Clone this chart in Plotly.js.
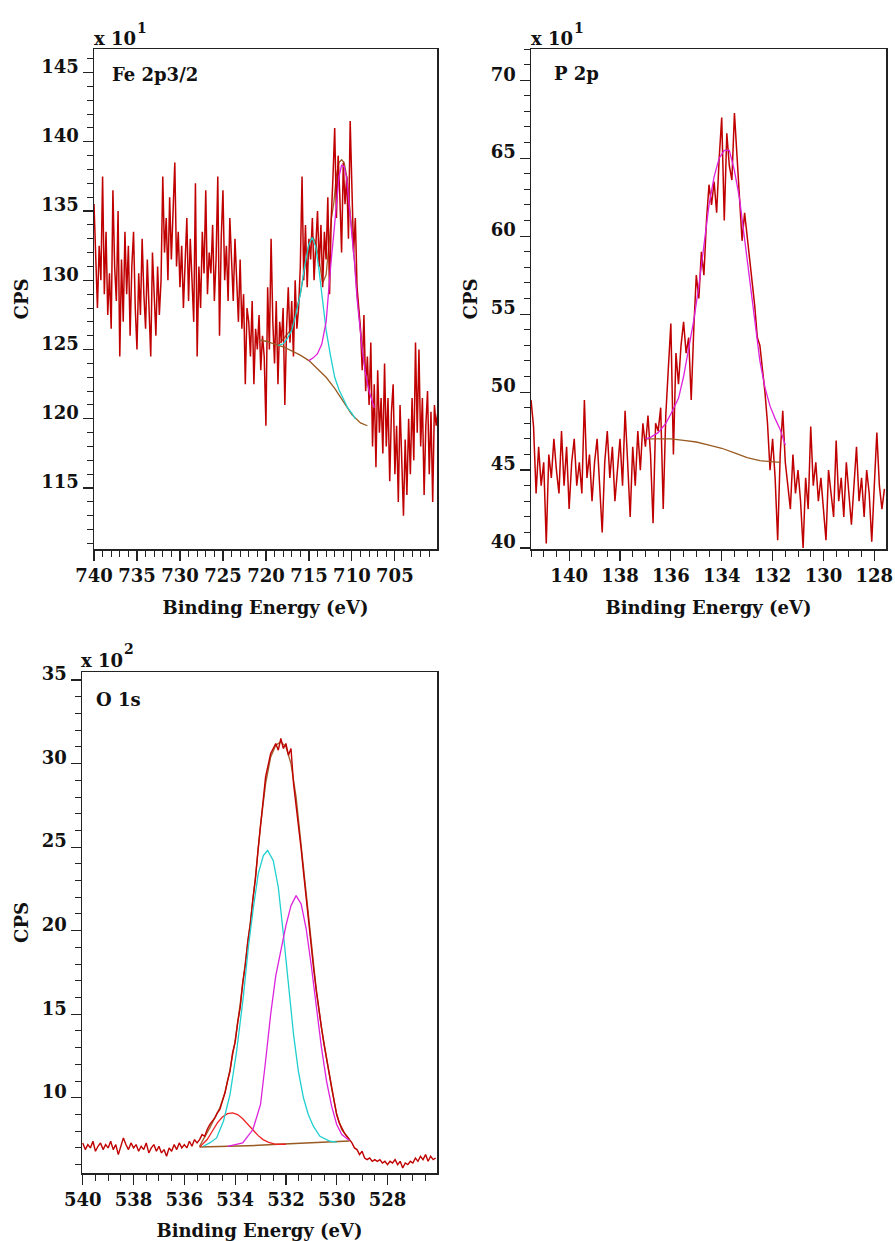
<!DOCTYPE html>
<html><head><meta charset="utf-8">
<script src="https://cdn.plot.ly/plotly-3.0.1.min.js"></script>
<style>html,body{margin:0;padding:0;background:#fff}#chart{width:895px;height:1241px}</style>
</head><body><div id="chart"></div>
<script>
// ---------- Fe 2p3/2 (CPS x 10) ----------
const feStart = 740, feStep = 0.2;
const feCounts = [
135.5,131.0,128.0,132.5,130.0,137.5,129.0,133.5,127.5,130.5,
126.5,136.5,131.0,128.5,135.0,124.5,131.5,127.0,133.5,129.0,
132.5,126.0,131.0,133.5,128.0,125.0,130.5,127.5,133.0,129.0,
126.5,131.5,128.0,124.5,132.0,129.0,126.0,131.0,127.5,130.0,
137.5,132.0,134.5,130.0,136.0,131.5,135.0,138.5,131.0,133.5,
129.5,132.5,128.0,131.0,134.5,128.5,133.0,130.0,127.0,137.0,
124.5,131.0,128.0,133.5,130.5,136.5,129.0,132.0,130.5,134.0,
128.5,131.5,137.5,126.0,133.0,136.5,130.0,132.5,128.5,134.5,
131.0,128.5,133.0,129.5,127.0,131.5,126.5,129.0,122.5,128.0,
127.0,124.5,128.5,122.5,126.5,125.0,127.5,123.5,126.0,124.5,
119.5,129.5,125.0,133.0,127.0,124.0,128.5,122.5,127.0,125.5,
128.0,121.0,126.5,129.5,125.5,128.5,124.5,130.0,126.5,128.0,
131.0,137.5,130.0,134.0,129.5,133.0,131.5,134.5,130.0,132.5,
135.0,131.0,134.0,129.5,133.5,131.5,136.0,129.0,134.5,137.5,
141.0,134.5,139.0,136.0,132.0,138.5,135.5,137.5,133.0,141.5,
136.0,132.0,134.5,129.5,128.0,126.5,123.5,127.5,122.0,124.5,
121.0,125.5,118.0,122.5,116.5,123.5,119.0,121.5,117.5,124.0,
118.0,121.5,115.5,120.5,122.5,116.0,119.5,114.0,121.0,117.5,
113.0,118.5,114.5,120.0,116.0,121.5,117.0,125.5,119.0,125.0,
118.0,121.5,114.5,119.5,122.0,116.0,120.5,114.0,121.0,119.5,
120.5];
const feBgE = [720.8,720,719,718,717,716,715,714,713,712,711,710,709,708.2];
const feBg  = [125.7,125.6,125.4,125.2,124.9,124.6,124.2,123.6,123.0,122.2,121.2,120.3,119.7,119.5];
const feCyanE = [718.6,718,717.5,717,716.5,716,715.5,715,714.6,714.2,713.8,713.4,713,712.5,712,711.5,711,710.5,710,709.6];
const feCyan  = [125.3,125.4,125.8,126.4,127.6,129.0,131.0,132.6,133.1,132.4,130.6,128.4,126.4,124.6,123.0,122.1,121.4,120.8,120.4,120.0];
const feMagE = [715,714.5,714,713.5,713,712.7,712.4,712.1,711.8,711.5,711.2,710.9,710.6,710.3,710,709.7,709.4,709.1,708.8,708.4,708,707.6,707.4];
const feMag  = [124.2,124.4,124.7,125.4,127.0,129.4,131.5,133.4,135.8,137.5,138.3,138.2,137.3,135.4,133.4,131.3,128.7,126.6,125.0,123.2,122.0,121.2,120.8];
const feEnvE = [718.6,717,716,715,714.6,714.2,713.8,713.4,713,712.7,712.4,712.1,711.8,711.5,711.2,710.9,710.6,710.3,710,709.7,709.4,709.1,708.8,708.4,708];
const feEnv  = [125.3,126.5,129.0,132.6,133.2,132.7,131.4,129.8,130.4,132.2,134.4,135.6,137.6,138.5,138.7,138.5,137.5,135.6,133.6,131.5,128.9,126.8,125.1,123.3,122.1];

// ---------- P 2p (CPS x 10) ----------
const pStart = 141.5, pStep = 0.1;
const pCounts = [
49.5,47.8,43.5,46.5,44.0,45.5,40.3,46.0,44.5,47.0,
45.0,43.5,47.5,44.0,46.5,42.5,45.5,47.0,44.0,45.5,
43.5,49.5,44.5,46.0,43.0,45.5,47.0,44.0,41.0,45.5,
47.5,44.5,46.5,43.0,45.0,47.0,44.0,48.8,45.5,42.0,
46.5,44.0,47.5,45.0,48.0,46.5,48.5,46.0,41.6,48.0,
47.5,49.0,42.5,48.5,51.5,54.4,46.0,52.5,50.5,53.0,
54.5,52.5,53.5,49.5,54.0,57.5,56.0,59.0,57.5,61.0,
63.3,62.0,63.5,61.5,65.0,67.6,61.0,66.6,64.5,63.6,
67.9,65.3,63.0,59.7,61.5,60.0,58.5,57.0,55.5,53.5,
53.0,51.5,50.0,48.0,45.0,47.0,44.5,40.5,46.0,48.8,
45.5,44.0,42.5,46.0,43.5,45.0,43.0,40.0,44.5,42.5,
47.8,44.0,45.5,43.0,44.5,42.5,40.5,45.0,43.5,42.0,
46.9,43.0,44.5,42.0,45.5,43.5,41.5,44.0,46.5,43.0,
44.5,42.0,45.0,43.5,40.4,44.0,47.4,44.0,42.5,43.8];
const pBgE = [137.0,136.5,136.0,135.5,135.0,134.5,134.0,133.5,133.0,132.5,132.0,131.7];
const pBg  = [47.0,47.0,47.0,46.9,46.8,46.6,46.4,46.1,45.8,45.6,45.55,45.5];
const pFitE = [137.0,136.8,136.5,136.2,136.0,135.7,135.5,135.3,135.1,134.9,134.7,134.5,134.3,134.1,133.9,133.7,133.5,133.3,133.1,132.9,132.7,132.5,132.3,132.1,131.9,131.7,131.5];
const pFit  = [47.0,47.1,47.4,48.0,48.6,49.6,51.0,52.8,54.6,56.8,59.3,62.0,63.8,65.0,65.5,65.5,64.2,62.4,59.8,57.2,54.5,52.0,50.3,49.1,48.3,47.6,46.6];

// ---------- O 1s (CPS x 100) ----------
const oStart = 540.0, oStep = 0.1;
const oCounts = [
7.3,6.9,7.2,7.0,7.4,6.8,7.1,7.3,6.9,7.2,
7.0,7.4,6.9,7.2,6.6,7.1,7.6,7.2,6.9,7.3,
7.0,7.2,6.8,7.1,6.9,7.3,6.7,7.0,7.2,6.8,
7.1,6.7,6.9,6.5,7.0,6.8,7.2,6.9,7.3,7.0,
7.2,7.0,7.4,7.1,7.5,7.3,7.5,7.8,7.7,8.1,
8.4,8.6,8.8,9.1,9.3,9.8,10.3,11.0,11.6,12.7,
13.3,14.5,15.4,16.9,17.9,19.4,20.4,21.9,23.1,24.8,
26.3,27.8,29.2,29.9,30.6,30.9,31.2,30.8,31.5,30.9,
31.2,30.5,30.9,28.8,27.6,26.1,24.9,23.4,21.9,20.5,
19.1,17.6,16.4,15.2,14.2,13.2,12.3,11.4,10.6,9.8,
9.0,8.5,8.2,7.9,7.7,7.5,7.3,7.0,6.9,6.6,
6.8,6.4,6.3,6.4,6.2,6.3,6.2,6.3,6.1,6.2,
6.0,6.2,6.1,6.3,6.0,6.2,5.8,6.1,6.0,6.2,
6.1,6.4,6.2,6.5,6.3,6.6,6.2,6.5,6.3,6.4];
const oBgE = [535.4,534.5,533.5,532.5,531.5,530.5,529.5];
const oBg  = [7.05,7.08,7.13,7.2,7.27,7.33,7.42];
const oRedE = [535.4,535.1,534.9,534.7,534.5,534.3,534.1,533.9,533.7,533.5,533.3,533.1,532.9,532.7,532.4,532.0];
const oRed  = [7.05,7.5,8.0,8.5,8.85,9.05,9.1,9.0,8.75,8.4,8.05,7.75,7.5,7.35,7.22,7.22];
const oCyanE = [535.25,535.0,534.73,534.46,534.2,533.94,533.68,533.48,533.28,533.09,532.89,532.72,532.5,532.3,532.1,531.9,531.7,531.51,531.31,531.12,530.92,530.66,530.26,530.0];
const oCyan  = [7.1,7.3,7.6,8.6,10.2,12.8,16.0,19.0,21.4,23.4,24.5,24.8,24.2,22.6,19.8,16.6,13.8,11.6,10.0,9.0,8.3,7.7,7.4,7.35];
const oMagE = [534.3,533.7,533.3,533.0,532.8,532.6,532.4,532.2,532.0,531.8,531.6,531.4,531.2,531.0,530.8,530.6,530.4,530.2,530.0,529.8,529.5];
const oMag  = [7.1,7.3,8.1,9.6,12.2,15.0,17.3,18.8,20.3,21.5,22.1,21.6,20.1,17.9,15.4,13.0,11.0,9.5,8.4,7.8,7.45];
const oEnvE = [535.4,535.0,534.6,534.4,534.2,534.0,533.8,533.6,533.4,533.2,533.0,532.8,532.6,532.4,532.2,532.0,531.8,531.6,531.4,531.2,531.0,530.8,530.6,530.4,530.2,530.0,529.8,529.5];
const oEnv  = [7.1,8.2,9.4,10.3,11.7,13.4,15.6,18.0,20.5,23.2,26.3,28.8,30.4,31.1,31.3,31.0,30.0,28.0,25.0,22.0,19.1,16.4,14.2,12.3,10.6,9.0,8.1,7.5];

const energies = (start, step, n) => Array.from({length: n}, (_, i) => +(start - i * step).toFixed(2));

const C = {data:'#c00000', bg:'#9a5b22', env:'#a0622d', cyan:'#1fcfcf', mag:'#dd22dd', red:'#ee2222'};
function tr(x, y, color, xa, ya, w) {
  return {x, y, type:'scatter', mode:'lines', line:{color, width:w||1.3}, xaxis:xa, yaxis:ya, hoverinfo:'skip', showlegend:false};
}
const traces = [
  tr(feEnvE, feEnv, C.env, 'x', 'y'),
  tr(energies(feStart, feStep, feCounts.length), feCounts, C.data, 'x', 'y', 1.5),
  tr(feBgE, feBg, C.bg, 'x', 'y'),
  tr(feCyanE, feCyan, C.cyan, 'x', 'y'),
  tr(feMagE, feMag, C.mag, 'x', 'y'),
  tr(energies(pStart, pStep, pCounts.length), pCounts, C.data, 'x2', 'y2', 1.5),
  tr(pBgE, pBg, C.bg, 'x2', 'y2'),
  tr(pFitE, pFit, C.mag, 'x2', 'y2'),
  tr(oEnvE, oEnv, C.env, 'x3', 'y3', 1.4),
  tr(energies(oStart, oStep, oCounts.length), oCounts, C.data, 'x3', 'y3', 1.4),
  tr(oBgE, oBg, C.bg, 'x3', 'y3', 1.5),
  tr(oRedE, oRed, C.red, 'x3', 'y3'),
  tr(oCyanE, oCyan, C.cyan, 'x3', 'y3'),
  tr(oMagE, oMag, C.mag, 'x3', 'y3')
];

const W = 895, H = 1241;
const px = v => v / W, py = v => 1 - v / H;
const font = {family:'DejaVu Serif', size:18, weight:'bold', color:'#111'};
const supFont = {family:'DejaVu Serif', size:14, weight:'bold', color:'#111'};
function ax(extra, minorDtick) {
  return Object.assign({
    showline:true, linecolor:'#222', linewidth:1.5, mirror:true,
    ticks:'outside', ticklen:10, tickwidth:1.2, tickcolor:'#222',
    showgrid:false, zeroline:false, tickfont:font, tick0:0,
    minor:{ticks:'outside', ticklen:6, tickwidth:1, tickcolor:'#222', dtick:minorDtick, showgrid:false},
    fixedrange:true
  }, extra);
}
const xTitle = {text:'Binding Energy (eV)', font};
const yTitle = {text:'CPS', font, standoff:8};
const ann = (text, x, y, opts) => Object.assign({text, x:px(x), y:py(y), xref:'paper', yref:'paper', showarrow:false, font, xanchor:'left', yanchor:'middle'}, opts || {});

const layout = {
  width:W, height:H, margin:{l:0, r:0, t:0, b:0},
  paper_bgcolor:'#fff', plot_bgcolor:'#fff', showlegend:false,
  xaxis: ax({domain:[px(94), px(437)], range:[740, 700.1], dtick:5, anchor:'y', title:xTitle}, 1),
  yaxis: ax({domain:[py(549), py(49)], range:[110.6, 146.7], dtick:5, anchor:'x', ticklabelshift:-6, title:yTitle}, 1),
  xaxis2: ax({domain:[px(531), px(886)], range:[141.5, 127.54], dtick:2, anchor:'y2', title:xTitle}, 0.5),
  yaxis2: ax({domain:[py(549), py(49)], range:[39.94, 72], dtick:5, anchor:'x2', ticklabelshift:-6, title:yTitle}, 1),
  xaxis3: ax({domain:[px(82), px(437)], range:[540.03, 526.05], dtick:2, anchor:'y3', title:xTitle}, 0.5),
  yaxis3: ax({domain:[py(1173), py(672)], range:[5.5, 35.48], dtick:5, anchor:'x3', ticklabelshift:-6, title:yTitle}, 1),
  annotations: [
    ann('Fe 2p3/2', 110, 74),
    ann('P 2p', 552, 73),
    ann('O 1s', 94, 699),
    ann('x 10', 92, 38),
    ann('1', 135, 28, {font:supFont}),
    ann('x 10', 529, 38),
    ann('1', 572, 28, {font:supFont}),
    ann('x 10', 79, 660),
    ann('2', 122, 649, {font:supFont})
  ]
};
Plotly.newPlot('chart', traces, layout, {staticPlot:true, displayModeBar:false});
</script></body></html>
